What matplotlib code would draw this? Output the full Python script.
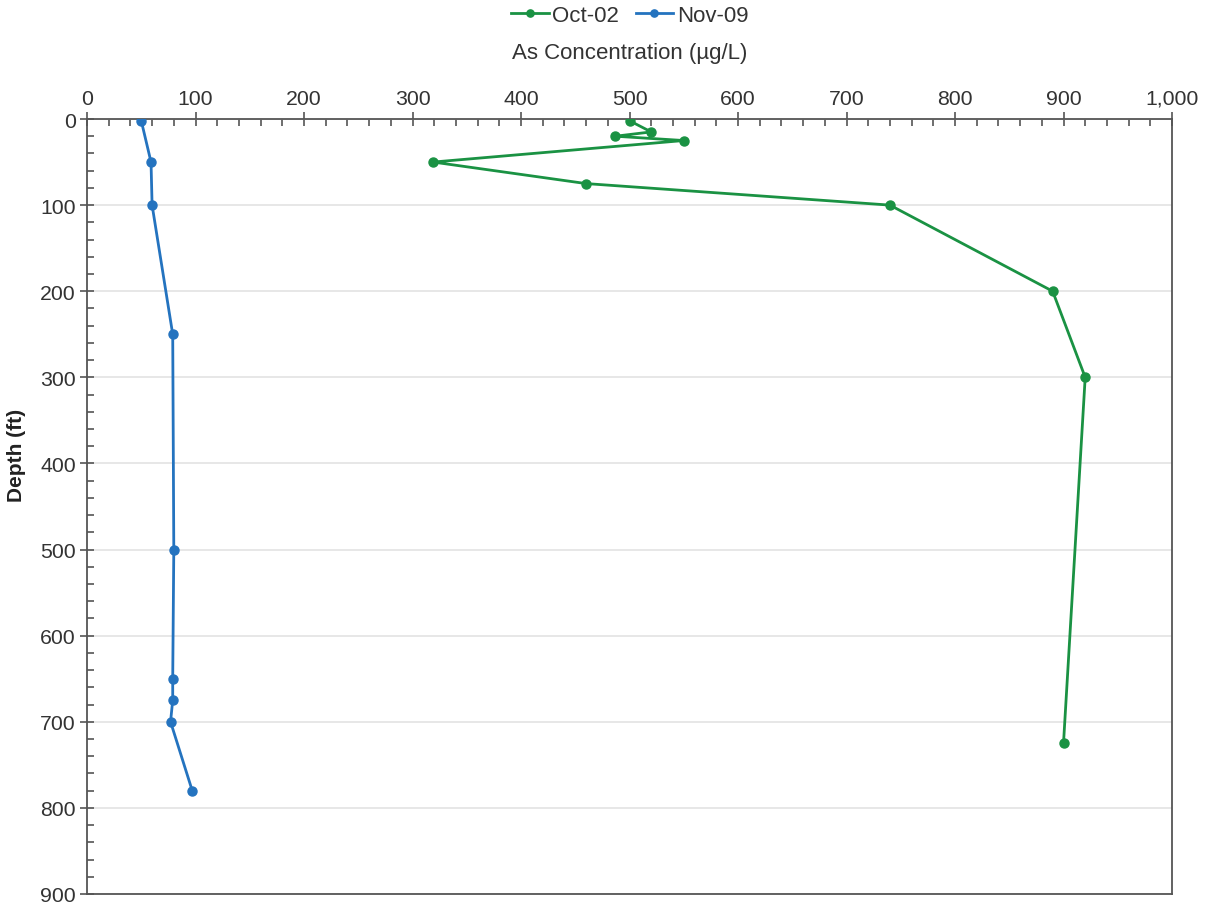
import matplotlib
matplotlib.use("Agg")
import matplotlib.pyplot as plt
from matplotlib.ticker import MultipleLocator, FuncFormatter

plt.rcParams['font.family'] = ['Liberation Sans', 'DejaVu Sans']

oct_conc = [500, 520, 487, 550, 319, 460, 740, 890, 920, 900]
oct_depth = [2, 15, 20, 25, 50, 75, 100, 200, 300, 725]
nov_conc = [50, 59, 60, 79, 80, 79, 79, 77, 97]
nov_depth = [2, 50, 100, 250, 500, 650, 675, 700, 780]

green = '#1a9243'
blue = '#2473bf'

W, H = 1222, 903
x0, x1, y0, y1 = 87, 1172, 120, 895
fig = plt.figure(figsize=(W/100, H/100), dpi=100)
ax = fig.add_axes([x0/W, 1-y1/H, (x1-x0)/W, (y1-y0)/H])

ax.plot(oct_conc, oct_depth, color=green, marker='o', ms=6.5, lw=2, label='Oct-02', zorder=3)
ax.plot(nov_conc, nov_depth, color=blue, marker='o', ms=6.5, lw=2, label='Nov-09', zorder=3)

ax.set_xlim(0, 1000)
ax.set_ylim(900, 0)
ax.xaxis.tick_top()
ax.xaxis.set_label_position('top')
ax.xaxis.set_major_locator(MultipleLocator(100))
ax.xaxis.set_minor_locator(MultipleLocator(20))
ax.yaxis.set_major_locator(MultipleLocator(100))
ax.yaxis.set_minor_locator(MultipleLocator(20))
ax.xaxis.set_major_formatter(FuncFormatter(lambda v, p: f'{int(v):,}'))
ax.yaxis.set_major_formatter(FuncFormatter(lambda v, p: f'{int(v):,}'))

ax.tick_params(which='major', direction='inout', length=10, width=1.2, color='#555555',
               labelsize=15.3, labelcolor='#333333', pad=3)
ax.tick_params(which='minor', direction='in', length=5, width=1.2, color='#555555')
ax.tick_params(axis='x', which='both', top=True, bottom=False)

for s in ax.spines.values():
    s.set_color('#555555')
    s.set_linewidth(1.3)

ax.grid(axis='y', which='major', color='#e3e3e3', lw=1.2, zorder=0)
ax.set_axisbelow(True)

ax.set_xlabel('As Concentration (µg/L)', fontsize=16, color='#333333', labelpad=22)
ax.set_ylabel('Depth (ft)', fontsize=15, color='#222222', fontweight='bold')
ax.yaxis.set_label_coords((26-x0)/(x1-x0), (y1-455)/(y1-y0))

ax.legend(loc='center', bbox_to_anchor=(0.5, (y1-16)/(y1-y0)), ncol=2, frameon=False,
          fontsize=16, handlelength=1.7, handletextpad=0.15, columnspacing=0.75,
          labelcolor='#333333', markerscale=0.8, borderpad=0)

fig.savefig('out.png', dpi=100, facecolor='white')
